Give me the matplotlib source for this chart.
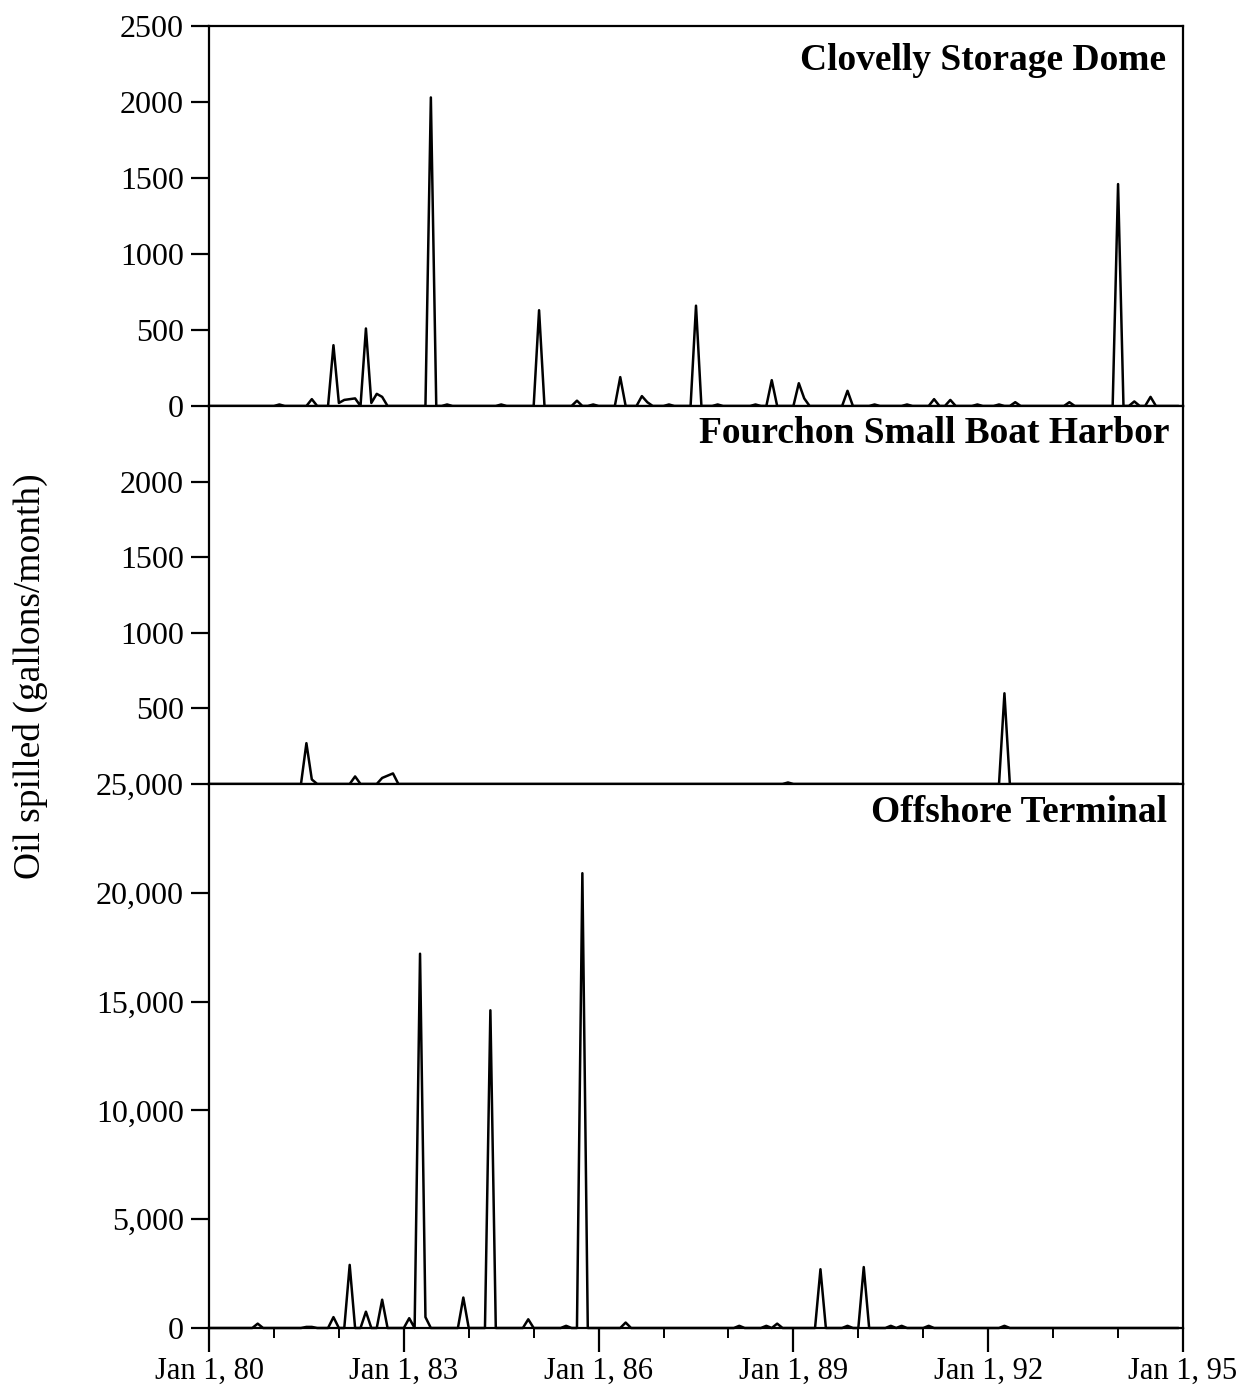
import numpy as np
import matplotlib
matplotlib.use("Agg")
import matplotlib.pyplot as plt
from matplotlib.ticker import FixedLocator

plt.rcParams['font.family'] = ['Liberation Serif', 'DejaVu Serif']

# months counted from Jan 1980 (0 = Jan 1980), values in gallons/month
clovelly_month = [13, 19, 23, 24, 25, 26, 27, 29, 30, 31, 32, 41, 44, 54, 61, 68, 71, 76,
                  80, 81, 85, 90, 94, 101, 104, 109, 110, 118, 123, 129, 134, 137, 142,
                  146, 149, 159, 168, 171, 174]
clovelly_gal = [10, 45, 400, 20, 40, 45, 50, 510, 20, 80, 60, 2030, 10, 10, 630, 35, 10, 190,
                65, 25, 10, 660, 10, 10, 170, 150, 50, 100, 10, 10, 45, 40, 10,
                10, 25, 25, 1460, 30, 60]

fourchon_month = [18, 19, 27, 32, 33, 34, 107, 147]
fourchon_gal = [270, 30, 50, 40, 55, 70, 10, 600]

offshore_month = [9, 18, 19, 23, 26, 29, 32, 37, 39, 40, 47, 52, 59, 66, 69, 77, 98,
                  103, 105, 113, 118, 121, 126, 128, 133, 147]
offshore_gal = [200, 50, 50, 500, 2900, 750, 1300, 450, 17200, 500, 1400, 14600, 400, 100,
                20900, 250, 100, 100, 200, 2700, 100, 2800, 100, 100, 100, 100]

panel_names = ["Clovelly Storage Dome", "Fourchon Small Boat Harbor", "Offshore Terminal"]
label_years = [1980, 1983, 1986, 1989, 1992, 1995]
year_labels = ["Jan 1, 80", "Jan 1, 83", "Jan 1, 86", "Jan 1, 89", "Jan 1, 92", "Jan 1, 95"]

n_months = 180
years = 1980 + np.arange(n_months) / 12.0


def monthly(months, vals):
    s = np.zeros(n_months)
    s[months] = vals
    return s


fig = plt.figure(figsize=(12.41, 13.95), dpi=100)
left, width = 209 / 1241, 974 / 1241
ax_top = fig.add_axes([left, 1 - 406 / 1395, width, 380 / 1395])
ax_mid = fig.add_axes([left, 1 - 784 / 1395, width, 378 / 1395])
ax_bot = fig.add_axes([left, 1 - 1328 / 1395, width, 544 / 1395])

series = [monthly(clovelly_month, clovelly_gal),
          monthly(fourchon_month, fourchon_gal),
          monthly(offshore_month, offshore_gal)]
ylims = [2500, 2500, 25000]
title_pos = [(0.983, 0.908), (0.986, 0.926), (0.984, 0.947)]

for ax, s, top, name, tp in zip([ax_top, ax_mid, ax_bot], series, ylims, panel_names, title_pos):
    ax.plot(years, s, color='black', lw=1.8, clip_on=False, zorder=3)
    ax.set_xlim(1980, 1995)
    ax.set_ylim(0, top)
    for sp in ax.spines.values():
        sp.set_linewidth(1.6)
    ax.tick_params(axis='y', direction='out', length=13, width=1.6, pad=5, labelsize=23)
    ax.text(tp[0], tp[1], name, transform=ax.transAxes, ha='right', va='center',
            fontsize=27, fontweight='bold')

# y ticks per panel
ax_top.yaxis.set_major_locator(FixedLocator([0, 500, 1000, 1500, 2000, 2500]))
ax_top.set_yticklabels(["0", "500", "1000", "1500", "2000", "2500"])
ax_mid.yaxis.set_major_locator(FixedLocator([500, 1000, 1500, 2000]))
ax_mid.set_yticklabels(["500", "1000", "1500", "2000"])
ax_bot.yaxis.set_major_locator(FixedLocator([0, 5000, 10000, 15000, 20000, 25000]))
ax_bot.set_yticklabels(["0", "5,000", "10,000", "15,000", "20,000", "25,000"])

for ax in [ax_top, ax_mid]:
    ax.tick_params(axis='x', which='both', bottom=False, labelbottom=False)

ax_bot.xaxis.set_major_locator(FixedLocator(label_years))
ax_bot.xaxis.set_minor_locator(FixedLocator(list(range(1980, 1996))))
ax_bot.set_xticklabels(year_labels)
ax_bot.tick_params(axis='x', which='major', direction='out', length=17, width=1.6,
                   pad=4, labelsize=22)
ax_bot.tick_params(axis='x', which='minor', direction='out', length=7, width=1.4)

fig.text(30 / 1241, 1 - 676 / 1395, "Oil spilled (gallons/month)", rotation=90,
         ha='center', va='center', fontsize=27)

fig.savefig("out.png", dpi=100)
